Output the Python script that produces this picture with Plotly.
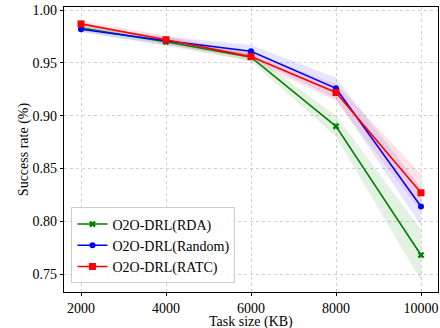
import plotly.graph_objects as go

task_size = [2000, 4000, 6000, 8000, 10000]
rda = [0.983, 0.970, 0.9555, 0.890, 0.768]
rnd = [0.982, 0.971, 0.961, 0.926, 0.814]
ratc = [0.987, 0.972, 0.956, 0.922, 0.827]
rda_err = [0.003, 0.004, 0.004, 0.010, 0.024]
rnd_err = [0.003, 0.004, 0.006, 0.010, 0.018]
ratc_err = [0.003, 0.004, 0.004, 0.008, 0.018]
names = ["O2O-DRL(RDA)", "O2O-DRL(Random)", "O2O-DRL(RATC)"]
y_ticks = [0.75, 0.80, 0.85, 0.90, 0.95, 1.00]
y_labels = ["0.75", "0.80", "0.85", "0.90", "0.95", "1.00"]
x_ticks = [2000, 4000, 6000, 8000, 10000]
x_labels = ["2000", "4000", "6000", "8000", "10000"]
x_title = "Task size (KB)"
y_title = "Success rate (%)"

FONT = "Liberation Serif, Times New Roman, serif"

series = [
    (names[0], rda, rda_err, "green", "rgba(0,128,0,0.11)", "x", 6),
    (names[1], rnd, rnd_err, "blue", "rgba(0,0,255,0.10)", "circle", 6),
    (names[2], ratc, ratc_err, "red", "rgba(255,0,0,0.10)", "square", 7),
]

fig = go.Figure()
for name, vals, err, col, fcol, sym, ms in series:
    up = [v + e for v, e in zip(vals, err)]
    lo = [v - e for v, e in zip(vals, err)]
    fig.add_trace(go.Scatter(x=task_size + task_size[::-1], y=up + lo[::-1],
                             fill="toself", fillcolor=fcol, line=dict(width=0),
                             mode="lines", showlegend=False, hoverinfo="skip"))
for name, vals, err, col, fcol, sym, ms in series:
    fig.add_trace(go.Scatter(x=task_size, y=vals, mode="lines+markers", name=name,
                             line=dict(color=col, width=1.6),
                             marker=dict(symbol=sym, size=ms, color=col, line=dict(width=0))))

axis_common = dict(showline=True, linecolor="black", linewidth=1.2, mirror=True,
                   ticks="outside", ticklen=3, tickcolor="black",
                   showgrid=True, gridcolor="rgba(190,190,190,0.7)", griddash="dot",
                   gridwidth=0.8, zeroline=False, automargin=False,
                   tickfont=dict(family=FONT, size=14, color="black"))

fig.update_layout(
    width=440, height=328,
    margin=dict(l=64, r=2, t=7, b=36),
    plot_bgcolor="white", paper_bgcolor="white",
    font=dict(family=FONT, size=14, color="black"),
    xaxis=dict(range=[1600, 10400], tickvals=x_ticks, ticktext=x_labels,
               **axis_common),
    yaxis=dict(range=[0.733, 1.003], tickvals=y_ticks, ticktext=y_labels,
               title=dict(text=y_title, standoff=0,
                          font=dict(family=FONT, size=14)),
               **axis_common),
    legend=dict(x=0.02, y=0.03, xanchor="left", yanchor="bottom",
                bgcolor="rgba(255,255,255,0.8)", bordercolor="rgba(200,200,200,0.9)",
                borderwidth=1, font=dict(family=FONT, size=14),
                tracegroupgap=0),
)
fig.add_annotation(text=x_title, xref="paper", yref="paper", x=0.5, y=0,
                   xanchor="center", yanchor="top", yshift=-20, showarrow=False,
                   font=dict(family=FONT, size=14, color="black"))

fig.write_html("out.html", config={"displayModeBar": False},
               post_script="document.body.style.margin='0';document.body.style.padding='0';document.documentElement.style.margin='0';")
